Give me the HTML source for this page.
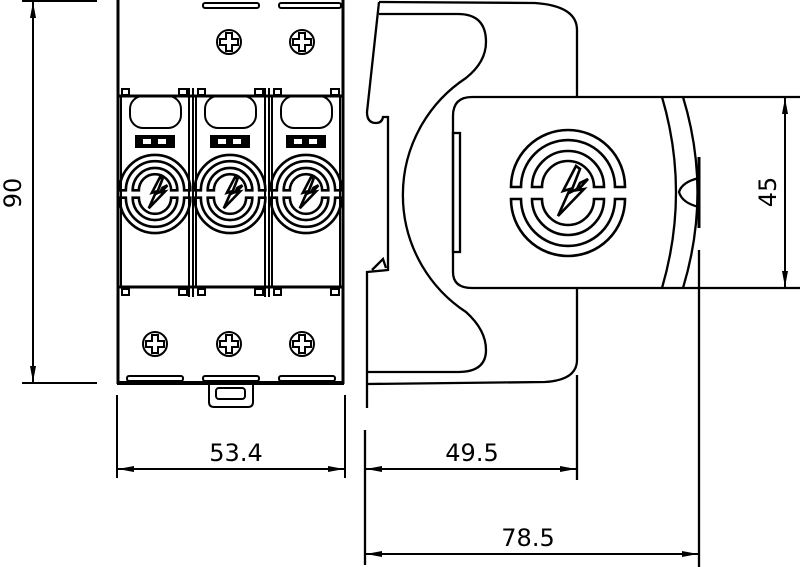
<!DOCTYPE html>
<html><head><meta charset="utf-8"><style>
html,body{margin:0;padding:0;background:#fff;width:800px;height:567px;overflow:hidden}
svg{display:block}
text{font-family:"DejaVu Sans","Liberation Sans",sans-serif;font-size:24px;fill:#000}
</style></head><body>
<svg width="800" height="567" viewBox="0 0 800 567" xmlns="http://www.w3.org/2000/svg">
<defs>
<g id="sym" fill="none" stroke="#000">
  <path d="M-57,-6 A57,57 0 0 1 57,-6 L47,-6 A47,47 0 0 0 -47,-6 Z"/>
  <path d="M-57,6 A57,57 0 0 0 57,6 L47,6 A47,47 0 0 1 -47,6 Z"/>
  <path d="M-36,-6 A36,36 0 0 1 36,-6 L26,-6 A26,26 0 0 0 -26,-6 Z"/>
  <path d="M-36,6 A36,36 0 0 0 36,6 L26,6 A26,26 0 0 1 -26,6 Z"/>
  <path d="M8,-27 L-5,-2 L2,-4 L-10,23 L16,-4 L10,-3 L20,-14 L12,-10 L9,-4 L3,-1 L12,-24 Z"/>
</g>
<g id="screw" fill="none" stroke="#000" stroke-width="2">
  <circle r="12"/>
  <path d="M-3,-9 L3,-9 L3,-3 L9,-3 L9,3 L3,3 L3,9 L-3,9 L-3,3 L-9,3 L-9,-3 L-3,-3 Z"/>
</g>
<g id="mod" fill="none" stroke="#000" stroke-width="2">
  <rect x="13" y="10" width="51" height="32" rx="13"/>
  <rect x="19" y="50" width="38" height="11" fill="#000"/>
  <rect x="26" y="53" width="8" height="5" fill="#fff" stroke="none"/>
  <rect x="41" y="53" width="8" height="5" fill="#fff" stroke="none"/>
  <g transform="translate(38,108) scale(0.62)"><use href="#sym" stroke-width="4.2"/></g>
</g>
<marker id="ar" viewBox="0 0 16 6" refX="16" refY="3" markerWidth="16" markerHeight="6" orient="auto-start-reverse" markerUnits="userSpaceOnUse">
  <path d="M0,0 L16,3 L0,6 Z" fill="#000"/>
</marker>
</defs>

<g stroke="#000" stroke-width="2" fill="none">
  <line x1="22" y1="1" x2="97" y2="1"/>
  <line x1="22" y1="383" x2="97" y2="383"/>
  <line x1="33" y1="2" x2="33" y2="382" marker-start="url(#ar)" marker-end="url(#ar)"/>
</g>
<text transform="translate(21,193) rotate(-90)" text-anchor="middle">90</text>

<g stroke="#000" fill="none">
  <line x1="118" y1="0" x2="118" y2="384" stroke-width="3"/>
  <line x1="343" y1="0" x2="343" y2="384" stroke-width="3"/>
  <line x1="117" y1="383" x2="344" y2="383" stroke-width="4"/>
  <g stroke-width="2">
    <rect x="203" y="3" width="56" height="5" rx="2"/>
    <rect x="279" y="3" width="62" height="5" rx="2"/>
    <rect x="127" y="376" width="56" height="5" rx="2"/>
    <rect x="203" y="376" width="56" height="5" rx="2"/>
    <rect x="279" y="376" width="56" height="5" rx="2"/>
    <path d="M209,384 L209,402 Q209,407 214,407 L248,407 Q253,407 253,402 L253,384"/>
    <rect x="216" y="388" width="29" height="11" rx="3"/>
    <line x1="117" y1="395" x2="117" y2="478"/>
    <line x1="345" y1="395" x2="345" y2="478"/>
  </g>
  <line x1="118" y1="96" x2="343" y2="96" stroke-width="3"/>
  <line x1="118" y1="287" x2="343" y2="287" stroke-width="3"/>
  <g stroke-width="2">
    <line x1="121" y1="96" x2="121" y2="287"/>
    <line x1="189" y1="88" x2="189" y2="297"/>
    <line x1="193" y1="88" x2="193" y2="297"/>
    <line x1="196" y1="96" x2="196" y2="287"/>
    <line x1="265" y1="88" x2="265" y2="297"/>
    <line x1="269" y1="88" x2="269" y2="297"/>
    <line x1="272" y1="96" x2="272" y2="287"/>
    <line x1="340" y1="96" x2="340" y2="287"/>
  </g>
  <g stroke-width="2">
    <rect x="122" y="89" width="7" height="6"/><rect x="179" y="89" width="8" height="6"/>
    <rect x="198" y="89" width="7" height="6"/><rect x="255" y="89" width="8" height="6"/>
    <rect x="274" y="89" width="7" height="6"/><rect x="331" y="89" width="8" height="6"/>
    <rect x="122" y="289" width="7" height="6"/><rect x="179" y="289" width="8" height="6"/>
    <rect x="198" y="289" width="7" height="6"/><rect x="255" y="289" width="8" height="6"/>
    <rect x="274" y="289" width="7" height="6"/><rect x="331" y="289" width="8" height="6"/>
  </g>
</g>
<g transform="translate(117,86)"><use href="#mod"/></g>
<g transform="translate(192,86)"><use href="#mod"/></g>
<g transform="translate(268,86)"><use href="#mod"/></g>
<use href="#screw" x="229" y="42"/>
<use href="#screw" x="302" y="42"/>
<use href="#screw" x="155" y="344"/>
<use href="#screw" x="229" y="344"/>
<use href="#screw" x="302" y="344"/>

<line x1="118" y1="469" x2="344" y2="469" stroke="#000" stroke-width="2" marker-start="url(#ar)" marker-end="url(#ar)"/>
<text x="236" y="461" text-anchor="middle">53.4</text>

<g stroke="#000" stroke-width="2.3" fill="none">
  <path d="M379,2 L535,3 Q577,6 577,30 L577,97"/>
  <path d="M577,288 L577,360 Q577,380 545,382 L367,384"/>
  <path d="M379,2 L367,112 Q367,123 376,123 Q382,123 383,117 L388,117 L388,270 L367,272 L367,408"/>
  <path d="M372,270 L383,259 L386,268"/>
  <path d="M379,14 L458,14 Q486,14 486,42 Q486,62 466,78 A140,140 0 0 0 466,312 Q486,330 486,350 Q486,372 458,372 L368,372"/>
  <path d="M800,97 L472,97 Q453,97 453,116 L453,272 Q453,288 472,288 L800,288"/>
  <rect x="453" y="133" width="7" height="119"/>
  <path d="M662,97 Q690,192 662,288"/>
  <path d="M683,97 Q712,192 683,288"/>
  <path d="M699,178 Q682,182 679,192 Q682,203 699,207"/>
  <line x1="699" y1="157" x2="699" y2="228" stroke-width="3"/>
  <line x1="699" y1="250" x2="699" y2="567"/>
  <line x1="365" y1="430" x2="365" y2="565"/>
  <line x1="577" y1="375" x2="577" y2="480"/>
  <line x1="785" y1="98" x2="785" y2="287" stroke-width="2" marker-start="url(#ar)" marker-end="url(#ar)"/>
  <line x1="366" y1="469" x2="576" y2="469" stroke-width="2" marker-start="url(#ar)" marker-end="url(#ar)"/>
  <line x1="366" y1="554" x2="698" y2="554" stroke-width="2" marker-start="url(#ar)" marker-end="url(#ar)"/>
</g>
<g transform="translate(568,193)"><use href="#sym" stroke-width="2.6"/></g>
<text transform="translate(776,192) rotate(-90)" text-anchor="middle">45</text>
<text x="472" y="461" text-anchor="middle">49.5</text>
<text x="528" y="546" text-anchor="middle">78.5</text>
</svg>
</body></html>
